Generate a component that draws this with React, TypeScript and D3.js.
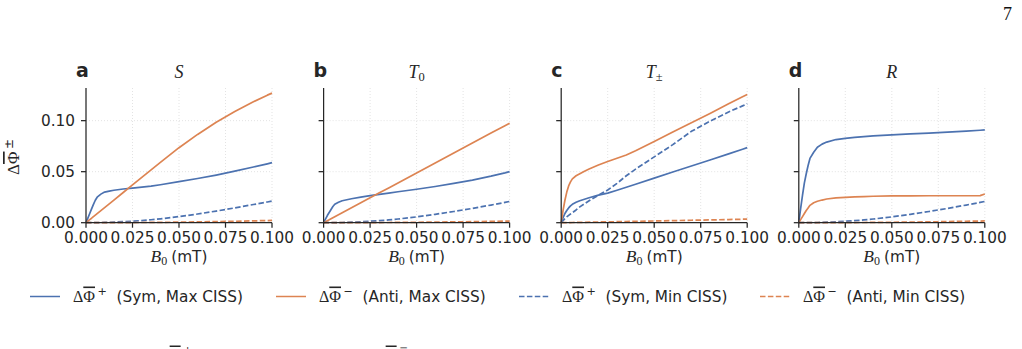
import * as d3 from "d3";

// magnetic field grid (mT), shared by every curve
const B0 = [
  0, 0.001, 0.002, 0.003, 0.004, 0.005, 0.006, 0.008, 0.01, 0.0125, 0.015, 0.02,
  0.025, 0.03, 0.035, 0.04, 0.05, 0.06, 0.07, 0.08, 0.09, 0.0975, 0.1,
];

const PANEL_LETTERS = ["a", "b", "c", "d"];
const PANEL_TITLES = [
  { base: "S", sub: "" },
  { base: "T", sub: "0" },
  { base: "T", sub: "±" },
  { base: "R", sub: "" },
];
const X_TICKS = [0, 0.025, 0.05, 0.075, 0.1];
const Y_TICKS = [0, 0.05, 0.1];

// one row per panel (S, T0, T±, R)
const SYM_MAX = [
  [0, 0.0045, 0.009, 0.0135, 0.018, 0.022, 0.025, 0.028, 0.03, 0.031, 0.0318, 0.033, 0.0339, 0.0348, 0.0358, 0.0372, 0.0403, 0.0433, 0.0467, 0.0505, 0.0546, 0.0577, 0.0588],
  [0, 0.0035, 0.007, 0.01, 0.013, 0.0158, 0.018, 0.02, 0.0215, 0.0225, 0.0235, 0.025, 0.0265, 0.0278, 0.029, 0.0303, 0.0328, 0.0355, 0.0385, 0.0418, 0.0456, 0.0488, 0.05],
  [0, 0.005, 0.009, 0.012, 0.0145, 0.0165, 0.018, 0.02, 0.0215, 0.023, 0.0245, 0.027, 0.029, 0.0318, 0.0348, 0.0377, 0.0437, 0.0497, 0.0555, 0.0615, 0.0675, 0.072, 0.0736],
  [0, 0.014, 0.027, 0.039, 0.048, 0.056, 0.063, 0.069, 0.074, 0.077, 0.079, 0.0815, 0.0827, 0.0836, 0.0843, 0.085, 0.086, 0.087, 0.0878, 0.0888, 0.0898, 0.0906, 0.0909],
];
const ANTI_MAX = [
  [0, 0.0015, 0.003, 0.0044, 0.0059, 0.0074, 0.0089, 0.0118, 0.0148, 0.0185, 0.0222, 0.0296, 0.037, 0.0444, 0.0518, 0.0592, 0.0735, 0.0865, 0.0985, 0.109, 0.1185, 0.125, 0.127],
  [0, 0.001, 0.002, 0.0029, 0.0039, 0.0049, 0.0059, 0.0078, 0.0098, 0.0122, 0.0146, 0.0195, 0.0244, 0.0293, 0.0341, 0.039, 0.0488, 0.0585, 0.0683, 0.078, 0.0878, 0.0951, 0.0975],
  [0, 0.012, 0.022, 0.03, 0.036, 0.04, 0.043, 0.046, 0.048, 0.0505, 0.0527, 0.0565, 0.06, 0.0632, 0.0664, 0.0705, 0.0795, 0.0888, 0.098, 0.107, 0.1165, 0.1235, 0.1257],
  [0, 0.003, 0.006, 0.009, 0.012, 0.0145, 0.017, 0.0195, 0.021, 0.0222, 0.0232, 0.0243, 0.0249, 0.0253, 0.0256, 0.0259, 0.0262, 0.0263, 0.0264, 0.0264, 0.0264, 0.0265, 0.0282],
];
const SYM_MIN = [
  [0, 0, 0, 0, 0.00003, 0.00005, 0.00008, 0.00013, 0.0003, 0.0004, 0.0006, 0.001, 0.0015, 0.0021, 0.0029, 0.0038, 0.006, 0.0085, 0.0114, 0.0145, 0.0178, 0.0203, 0.0212],
  [0, 0, 0, 0, 0.00003, 0.00005, 0.00008, 0.00013, 0.0002, 0.0003, 0.0005, 0.0009, 0.0014, 0.002, 0.0027, 0.0036, 0.0057, 0.0082, 0.011, 0.014, 0.0173, 0.0199, 0.0208],
  [0, 0.002, 0.004, 0.0057, 0.0072, 0.0085, 0.0098, 0.0125, 0.0155, 0.0185, 0.0215, 0.027, 0.032, 0.0385, 0.046, 0.0525, 0.0645, 0.0765, 0.0895, 0.0995, 0.1085, 0.1145, 0.1165],
  [0, 0, 0, 0, 0.00003, 0.00005, 0.00008, 0.00013, 0.0002, 0.0003, 0.0005, 0.0009, 0.0014, 0.002, 0.0027, 0.0036, 0.0057, 0.0082, 0.011, 0.014, 0.0173, 0.0199, 0.0208],
];
const ANTI_MIN = [
  [0, 0, 0, 0, 0, 0, 0, 0.00001, 0.00002, 0.00003, 0.00005, 0.00008, 0.00013, 0.0002, 0.00027, 0.00035, 0.00055, 0.0008, 0.0011, 0.0014, 0.0018, 0.0021, 0.0022],
  [0, 0, 0, 0, 0, 0, 0, 0.00001, 0.00002, 0.00003, 0.00004, 0.00006, 0.0001, 0.00014, 0.0002, 0.00026, 0.0004, 0.0006, 0.0008, 0.001, 0.0013, 0.0015, 0.0016],
  [0, 0.00003, 0.00006, 0.0001, 0.00013, 0.00016, 0.0002, 0.00026, 0.0003, 0.0004, 0.0005, 0.0007, 0.0008, 0.001, 0.0012, 0.0013, 0.0017, 0.002, 0.0024, 0.0027, 0.0031, 0.0034, 0.0035],
  [0, 0, 0, 0, 0, 0, 0, 0.00001, 0.00002, 0.00003, 0.00005, 0.00007, 0.0001, 0.00015, 0.0002, 0.00027, 0.0004, 0.0006, 0.0008, 0.0011, 0.0014, 0.0016, 0.0017],
];

const BLUE = "#4c72b0";
const ORANGE = "#dd8452";
const INK = "#262626";
const GRID = "#dcdcdc";
const SANS = "DejaVu Sans";
const MATH = "Liberation Serif";
const FS = 15.3;

const SERIES = [
  { key: "symMax", values: SYM_MAX, color: BLUE, dash: "", sign: "+", label: "(Sym, Max CISS)" },
  { key: "antiMax", values: ANTI_MAX, color: ORANGE, dash: "", sign: "−", label: "(Anti, Max CISS)" },
  { key: "symMin", values: SYM_MIN, color: BLUE, dash: "5.5 2.4", sign: "+", label: "(Sym, Min CISS)" },
  { key: "antiMin", values: ANTI_MIN, color: ORANGE, dash: "5.5 2.4", sign: "−", label: "(Anti, Min CISS)" },
];

const W = 1022;
const H = 349;
const AX_LEFT = 86;
const AX_STEP = 237.6;
const AX_W = 186;
const AX_TOP = 88;
const AX_BOTTOM = 222.7;
const LEGEND_X = [30, 276, 519, 760];
const LEGEND_Y = 296.5;

function PhiBar({ sign, size }: { sign: string; size: number }) {
  return (
    <>
      <tspan fontFamily={MATH}>Δ</tspan>
      <tspan fontFamily={MATH} style={{ textDecoration: "overline" }}>Φ</tspan>
      <tspan fontFamily={SANS} fontSize={size * 0.7} dy={-size * 0.38} dx={2.5}>{sign}</tspan>
    </>
  );
}

function Panel({ i }: { i: number }) {
  const left = AX_LEFT + i * AX_STEP;
  const x = d3.scaleLinear().domain([0, 0.1]).range([left, left + AX_W]);
  const y = d3.scaleLinear().domain([0, 0.132]).range([AX_BOTTOM, AX_TOP]);
  const line = d3
    .line<number>()
    .x((_, k) => x(B0[k]))
    .y((v) => y(v));
  const title = PANEL_TITLES[i];
  const cx = left + AX_W / 2;

  return (
    <g>
      {/* grid */}
      {X_TICKS.slice(1).map((t) => (
        <line key={"gx" + t} x1={x(t)} x2={x(t)} y1={AX_TOP} y2={AX_BOTTOM} stroke={GRID} strokeWidth={0.8} strokeDasharray="1 2" />
      ))}
      {Y_TICKS.slice(1).map((t) => (
        <line key={"gy" + t} x1={left} x2={left + AX_W} y1={y(t)} y2={y(t)} stroke={GRID} strokeWidth={0.8} strokeDasharray="1 2" />
      ))}

      {SERIES.map((s) => (
        <path
          key={s.key}
          d={line(s.values[i]) ?? ""}
          fill="none"
          stroke={s.color}
          strokeWidth={1.7}
          strokeDasharray={s.dash || undefined}
          strokeLinejoin="round"
        />
      ))}

      {/* spines */}
      <line x1={left} x2={left} y1={AX_TOP} y2={AX_BOTTOM} stroke={INK} strokeWidth={1.25} />
      <line x1={left} x2={left + AX_W} y1={AX_BOTTOM} y2={AX_BOTTOM} stroke={INK} strokeWidth={1.25} />

      {/* ticks */}
      {Y_TICKS.map((t) => (
        <g key={"ty" + t}>
          <line x1={left - 5} x2={left} y1={y(t)} y2={y(t)} stroke={INK} strokeWidth={1.25} />
          {i === 0 && (
            <text x={left - 11} y={y(t)} dy="0.36em" textAnchor="end" fontFamily={SANS} fontSize={FS} fill={INK}>
              {t.toFixed(2)}
            </text>
          )}
        </g>
      ))}
      {X_TICKS.map((t) => (
        <g key={"tx" + t}>
          <line x1={x(t)} x2={x(t)} y1={AX_BOTTOM} y2={AX_BOTTOM + 5} stroke={INK} strokeWidth={1.25} />
          <text x={x(t)} y={242.5} textAnchor="middle" fontFamily={SANS} fontSize={FS} fill={INK}>
            {t.toFixed(3)}
          </text>
        </g>
      ))}

      {/* x label */}
      <text x={cx} y={261.5} textAnchor="middle" fontFamily={SANS} fontSize={FS} fill={INK}>
        <tspan fontFamily={MATH} fontStyle="italic" fontSize={17.5}>B</tspan>
        <tspan fontFamily={MATH} fontSize={12} dy={3}>0</tspan>
        <tspan dy={-3} dx={4}>(mT)</tspan>
      </text>

      {/* panel letter + title */}
      <text x={left - 10} y={77} fontFamily={SANS} fontWeight="bold" fontSize={19} fill={INK}>
        {PANEL_LETTERS[i]}
      </text>
      <text x={cx} y={77.5} textAnchor="middle" fontFamily={MATH} fontSize={18} fill={INK}>
        <tspan fontStyle="italic">{title.base}</tspan>
        {title.sub && (
          <tspan fontSize={12.5} dy={3.5}>{title.sub}</tspan>
        )}
      </text>
    </g>
  );
}

export default function App() {
  return (
    <svg
      width={W}
      height={H}
      viewBox={`0 0 ${W} ${H}`}
      style={{ position: "absolute", left: 0, top: 0, background: "#fff" }}
    >
      <rect width={W} height={H} fill="#fff" />
      <text x={1003} y={20} fontFamily={MATH} fontSize={18} fill="#111">7</text>

      {PANEL_LETTERS.map((_, i) => (
        <Panel key={i} i={i} />
      ))}

      {/* y label */}
      <text
        transform={`translate(19,157) rotate(-90)`}
        textAnchor="middle"
        fontSize={17}
        fill={INK}
      >
        <PhiBar sign="±" size={17} />
      </text>

      {/* legend */}
      {SERIES.map((s, k) => (
        <g key={s.key}>
          <line
            x1={LEGEND_X[k]}
            x2={LEGEND_X[k] + 30}
            y1={LEGEND_Y}
            y2={LEGEND_Y}
            stroke={s.color}
            strokeWidth={1.5}
            strokeDasharray={s.dash || undefined}
          />
          <text x={LEGEND_X[k] + 43} y={301.5} fontSize={16} fill={INK}>
            <PhiBar sign={s.sign} size={16} />
          </text>
          <text x={LEGEND_X[k] + 86.5} y={301.5} fontFamily={SANS} fontSize={FS} fill={INK}>
            {s.label}
          </text>
        </g>
      ))}

      {/* next row, cut off by the page edge */}
      <text x={160} y={359.5} fontSize={15} fill={INK}>
        <PhiBar sign="±" size={15} />
      </text>
      <text x={376} y={359.5} fontSize={15} fill={INK}>
        <PhiBar sign="∓" size={15} />
      </text>
    </svg>
  );
}
